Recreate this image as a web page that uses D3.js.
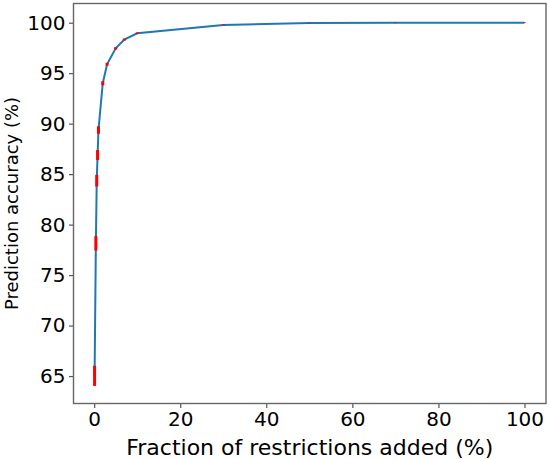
<!DOCTYPE html>
<html>
<head>
<meta charset="utf-8">
<script src="https://cdn.jsdelivr.net/npm/d3@7"></script>
<style>
  body { margin: 0; background: #fff; }
  text { font-family: "DejaVu Sans", sans-serif; fill: #000; }
</style>
</head>
<body>
<div id="chart"></div>
<script>
// fraction of restrictions added (%) and prediction accuracy (%)
var fractions = [0.1, 0.4, 0.6, 0.8, 1, 2, 3, 5, 7, 10, 30, 50, 70, 100];
var accuracy = [65.02, 78.15, 84.35, 86.89, 89.37, 94.0, 95.88, 97.46, 98.32, 98.95, 99.78, 99.97, 99.99, 100.0];
var errors = [1.0, 0.72, 0.58, 0.5, 0.37, 0.2, 0.15, 0.12, 0.1, 0.08, 0.05, 0.03, 0.03, 0.03];
var xTicks = [0, 20, 40, 60, 80, 100];
var yTicks = [65, 70, 75, 80, 85, 90, 95, 100];

var svgWidth = 550;
var svgHeight = 459;

var margin = {
    top: 3.5,
    bottom: 55.5,
    right: 4,
    left: 73.5
};

var width = svgWidth - margin.left - margin.right;
var height = svgHeight - margin.top - margin.bottom;

var svg = d3.select("#chart")
    .append("svg")
    .attr("width", svgWidth)
    .attr("height", svgHeight);

var plot = svg.append("g")
    .attr("transform", `translate(${margin.left}, ${margin.top})`);

var data = fractions.map((f, i) => ({ x: f, y: accuracy[i], e: errors[i] }));

var xScale = d3.scaleLinear()
    .domain([-4.8, 105])
    .range([0, width]);

var yScale = d3.scaleLinear()
    .domain([62.28, 101.9])
    .range([height, 0]);

// line
var line = d3.line()
    .x(d => xScale(d.x))
    .y(d => yScale(d.y));

plot.append("path")
    .datum(data)
    .attr("d", line)
    .attr("fill", "none")
    .attr("stroke", "#1f77b4")
    .attr("stroke-width", 2);

// error bars
plot.append("g")
    .selectAll("line")
    .data(data)
    .enter()
    .append("line")
    .attr("x1", d => xScale(d.x))
    .attr("x2", d => xScale(d.x))
    .attr("y1", d => yScale(d.y - d.e))
    .attr("y2", d => yScale(d.y + d.e))
    .attr("stroke", "red")
    .attr("stroke-width", 3);

// axes
var xAxis = d3.axisBottom(xScale).tickValues(xTicks).tickSize(4.5).tickPadding(4);
var yAxis = d3.axisLeft(yScale).tickValues(yTicks).tickSize(4.5).tickPadding(3.5);

var gx = plot.append("g")
    .attr("transform", `translate(0, ${height})`)
    .call(xAxis);

var gy = plot.append("g")
    .call(yAxis);

[gx, gy].forEach(g => {
    g.select(".domain").remove();
    g.selectAll(".tick line").attr("stroke", "#555").attr("stroke-width", 1.2);
    g.selectAll(".tick text")
        .style("font-family", "DejaVu Sans")
        .style("font-size", "20px")
        .attr("fill", "#000");
});

// frame
plot.append("rect")
    .attr("width", width)
    .attr("height", height)
    .attr("fill", "none")
    .attr("stroke", "#666")
    .attr("stroke-width", 1.4);

// x axis title
svg.append("text")
    .attr("x", margin.left + width / 2)
    .attr("y", 455)
    .style("text-anchor", "middle")
    .style("font-size", "22px")
    .text("Fraction of restrictions added (%)");

// y axis title
svg.append("text")
    .attr("transform", `translate(18, ${margin.top + height / 2}) rotate(-90)`)
    .style("text-anchor", "middle")
    .style("font-size", "18px")
    .text("Prediction accuracy (%)");
</script>
</body>
</html>
